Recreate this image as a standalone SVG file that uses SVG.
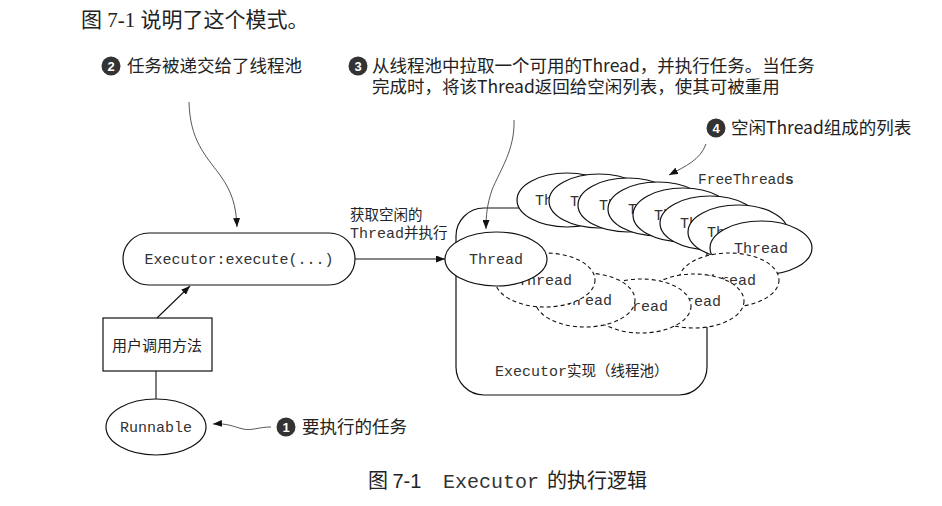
<svg xmlns="http://www.w3.org/2000/svg" width="942" height="506" viewBox="0 0 942 506">
<style>
.cjk{font-family:"Noto Sans CJK SC","Noto Sans",sans-serif;fill:#222}
.mono{font-family:"Liberation Mono","DejaVu Sans Mono",monospace;fill:#333}
.node{fill:#fff;stroke:#111;stroke-width:1.2}
.dash{fill:#fff;stroke:#111;stroke-width:1.1;stroke-dasharray:4 3}
.conn{fill:none;stroke:#111;stroke-width:1.1}
.curve{fill:none;stroke:#444;stroke-width:0.9}
.badge{fill:#333}
.num{font-family:"Liberation Sans",sans-serif;font-weight:bold;font-size:13px;fill:#fff;text-anchor:middle}
</style>
<defs>
<marker id="ah" markerWidth="9" markerHeight="7" refX="9" refY="3.5" orient="auto" markerUnits="userSpaceOnUse">
<path d="M0,0 L9,3.5 L0,7 z" fill="#111"/>
</marker>
</defs>
<rect width="942" height="506" fill="#fff"/>

<text x="81" y="27" font-size="21" class="cjk" style="font-family:'Liberation Serif','Noto Sans CJK SC',serif">图 7-1 说明了这个模式。</text>

<g id="callout2">
<circle cx="111" cy="66" r="9.5" class="badge"/>
<text x="111" y="71" class="num">2</text>
<text x="127" y="72" font-size="17.5" class="cjk">任务被递交给了线程池</text>
</g>
<g id="callout3">
<circle cx="358" cy="66" r="9.5" class="badge"/>
<text x="358" y="71" class="num">3</text>
<text x="372" y="72" font-size="17.5" class="cjk">从线程池中拉取一个可用的Thread，并执行任务。当任务</text>
<text x="372" y="93" font-size="17.5" class="cjk">完成时，将该Thread返回给空闲列表，使其可被重用</text>
</g>
<g id="callout4">
<circle cx="716" cy="128" r="9.5" class="badge"/>
<text x="716" y="133" class="num">4</text>
<text x="731" y="134" font-size="17.5" class="cjk">空闲Thread组成的列表</text>
</g>
<g id="callout1">
<circle cx="286" cy="427" r="9.5" class="badge"/>
<text x="286" y="432" class="num">1</text>
<text x="302" y="433" font-size="17.5" class="cjk">要执行的任务</text>
</g>

<g id="pool">
<rect x="456" y="208" width="251" height="187" rx="28" class="node"/>
<text x="495" y="376" font-size="15" class="mono">Executor<tspan class="cjk" font-size="14.5">实现（线程池）</tspan></text>
</g>

<g id="free-threads">
<ellipse cx="567" cy="200" rx="50" ry="27" class="node"/><text x="562" y="205" font-size="15" class="mono" text-anchor="middle">Thread</text>
<ellipse cx="599" cy="201" rx="50" ry="27" class="node"/><text x="597" y="206" font-size="15" class="mono" text-anchor="middle">Thread</text>
<ellipse cx="628" cy="205" rx="50" ry="27" class="node"/><text x="626" y="210" font-size="15" class="mono" text-anchor="middle">Thread</text>
<ellipse cx="658" cy="209" rx="50" ry="27" class="node"/><text x="655" y="214" font-size="15" class="mono" text-anchor="middle">Thread</text>
<ellipse cx="683" cy="215" rx="50" ry="27" class="node"/><text x="681" y="220" font-size="15" class="mono" text-anchor="middle">Thread</text>
<ellipse cx="710" cy="223" rx="50" ry="27" class="node"/><text x="707" y="228" font-size="15" class="mono" text-anchor="middle">Thread</text>
<ellipse cx="738" cy="232" rx="50" ry="27" class="node"/><text x="734" y="237" font-size="15" class="mono" text-anchor="middle">Thread</text>
<ellipse cx="761" cy="248" rx="51" ry="27" class="node"/><text x="761" y="253" font-size="15" class="mono" text-anchor="middle">Thread</text>
<text x="698" y="184" font-size="14.5" class="mono">FreeThread<tspan font-weight="bold">s</tspan></text>
</g>

<g id="busy-threads">
<ellipse cx="729" cy="280" rx="50" ry="27" class="dash"/><text x="729" y="285" font-size="15" class="mono" text-anchor="middle">Thread</text>
<ellipse cx="694" cy="301" rx="50" ry="27" class="dash"/><text x="694" y="306" font-size="15" class="mono" text-anchor="middle">Thread</text>
<ellipse cx="641" cy="306" rx="50" ry="27" class="dash"/><text x="641" y="311" font-size="15" class="mono" text-anchor="middle">Thread</text>
<ellipse cx="585" cy="300" rx="50" ry="27" class="dash"/><text x="585" y="305" font-size="15" class="mono" text-anchor="middle">Thread</text>
<ellipse cx="545" cy="280" rx="50" ry="27" class="dash"/><text x="545" y="285" font-size="15" class="mono" text-anchor="middle">Thread</text>
</g>

<g id="thread-main">
<ellipse cx="496" cy="259" rx="51" ry="27" class="node"/>
<text x="496" y="264" font-size="15" class="mono" text-anchor="middle">Thread</text>
</g>

<g id="executor">
<rect x="123" y="233" width="232" height="52" rx="26" class="node"/>
<text x="239" y="264" font-size="15" class="mono" text-anchor="middle">Executor:execute(...)</text>
</g>

<g id="user-call">
<rect x="103" y="318" width="109" height="53" class="node"/>
<text x="157" y="351" font-size="15" class="cjk" text-anchor="middle">用户调用方法</text>
</g>

<g id="runnable">
<ellipse cx="156" cy="427" rx="50" ry="28" class="node"/>
<text x="156" y="432" font-size="15" class="mono" text-anchor="middle">Runnable</text>
</g>

<g id="connectors">
<line x1="355" y1="259" x2="445" y2="259" class="conn" marker-end="url(#ah)"/>
<text x="350" y="220" font-size="14.5" class="cjk">获取空闲的</text>
<text x="350" y="238" font-size="15" class="mono">Thread<tspan class="cjk" font-size="14.5">并执行</tspan></text>
<line x1="157" y1="318" x2="190" y2="286" class="conn" marker-end="url(#ah)"/>
<line x1="156" y1="371" x2="156" y2="399" class="conn"/>
<path d="M189,102 C190,140 205,155 220,175 C232,192 236,205 237,227" class="curve" marker-end="url(#ah)"/>
<path d="M514,120 C515,150 500,170 492,190 C487,205 486,215 486,229" class="curve" marker-end="url(#ah)"/>
<path d="M706,144 C700,160 686,166 669,175" class="curve" marker-end="url(#ah)"/>
<path d="M271,427 C258,427 252,431 243,429 C234,427 228,423 213,424" class="curve" marker-end="url(#ah)"/>
</g>

<g id="caption">
<text x="368" y="488" font-size="20" class="cjk">图 <tspan style="font-family:'Liberation Sans',sans-serif">7-1</tspan></text>
<text x="443" y="488" font-size="20" class="mono">Executor</text>
<text x="547" y="488" font-size="20" class="cjk">的执行逻辑</text>
</g>
</svg>
